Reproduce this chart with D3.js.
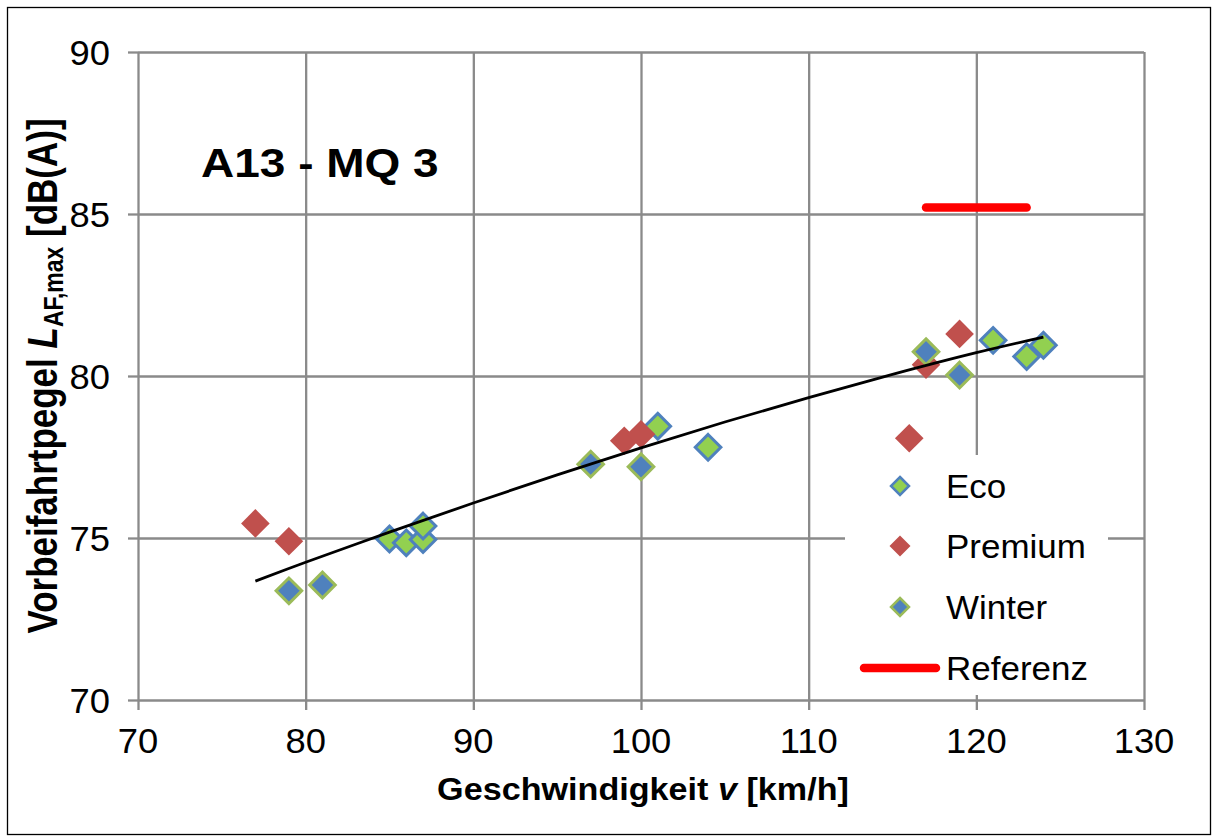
<!DOCTYPE html>
<html>
<head>
<meta charset="utf-8">
<script src="https://cdn.jsdelivr.net/npm/d3@7"></script>
<style>
  html, body { margin: 0; padding: 0; background: #fff; }
  svg { display: block; }
  text { font-family: "Liberation Sans", Arial, sans-serif; fill: #000; }
</style>
</head>
<body>
<svg id="chart" width="1215" height="839"></svg>
<script>
// Pass-by level vs. speed, measuring site A13 - MQ 3
const ecoSpeed      = [85, 86, 87, 87, 101, 104, 121, 123, 124];
const ecoLevel      = [74.97, 74.85, 74.95, 75.37, 78.45, 77.8, 81.1, 80.6, 80.95];
const premiumSpeed  = [77, 79, 99, 100, 116, 117, 119];
const premiumLevel  = [75.45, 74.9, 78.0, 78.2, 78.08, 80.35, 81.3];
const winterSpeed   = [79, 81, 97, 100, 117, 119];
const winterLevel   = [73.37, 73.55, 77.28, 77.2, 80.75, 80.03];
const referenzSpeed = [117, 123];
const referenzLevel = [85.2, 85.2];
const trendSpeed    = [77, 80, 85, 90, 95, 100, 105, 110, 115, 120, 124];
const trendLevel    = [73.67, 74.25, 75.18, 76.08, 76.95, 77.78, 78.58, 79.33, 80.05, 80.72, 81.2];
const xTicks = [70, 80, 90, 100, 110, 120, 130];
const yTicks = [70, 75, 80, 85, 90];
const seriesNames = ["Eco", "Premium", "Winter", "Referenz"];

const svg = d3.select("#chart");
const gridColor = "#8a8a8a";

// outer frame
svg.append("rect")
  .attr("x", 7.5).attr("y", 7.5).attr("width", 1203).attr("height", 827)
  .attr("fill", "#fff").attr("stroke", "#000").attr("stroke-width", 1.3);

const x = d3.scaleLinear().domain([70, 130]).range([138, 1144]);
const y = d3.scaleLinear().domain([70, 90]).range([700, 52]);

// gridlines + frame of the plot area via axes
const gx = svg.append("g").attr("transform", `translate(0,${y(70)})`)
  .call(d3.axisBottom(x).tickValues(xTicks).tickSize(-(y(70) - y(90))).tickFormat(""));
gx.selectAll("line").attr("stroke", gridColor).attr("stroke-width", 2.3);
gx.select(".domain").remove();
const gy = svg.append("g").attr("transform", `translate(${x(70)},0)`)
  .call(d3.axisLeft(y).tickValues(yTicks).tickSize(-(x(130) - x(70))).tickFormat(""));
gy.selectAll("line").attr("stroke", gridColor).attr("stroke-width", 2.3);
gy.select(".domain").remove();

// outer tick marks
const tx = svg.append("g").attr("transform", `translate(0,${y(70)})`)
  .call(d3.axisBottom(x).tickValues(xTicks).tickSize(10).tickSizeOuter(0).tickFormat(""));
tx.selectAll("line").attr("stroke", gridColor).attr("stroke-width", 2.3);
tx.select(".domain").remove();
const ty = svg.append("g").attr("transform", `translate(${x(70)},0)`)
  .call(d3.axisLeft(y).tickValues(yTicks).tickSize(10).tickSizeOuter(0).tickFormat(""));
ty.selectAll("line").attr("stroke", gridColor).attr("stroke-width", 2.3);
ty.select(".domain").remove();

// tick labels
svg.append("g").selectAll("text").data(xTicks).join("text")
  .attr("transform", d => `translate(${x(d)},753) scale(1.04,1)`)
  .attr("text-anchor", "middle").attr("font-size", 35).text(d => d);
svg.append("g").selectAll("text").data(yTicks).join("text")
  .attr("transform", d => `translate(110,${y(d) + 12.5}) scale(1.04,1)`)
  .attr("text-anchor", "end").attr("font-size", 35).text(d => d);

// axis titles
svg.append("text")
  .attr("transform", "translate(643,800) scale(1.12,1)")
  .attr("text-anchor", "middle").attr("font-size", 30.5).attr("font-weight", "bold")
  .call(t => {
    t.append("tspan").text("Geschwindigkeit ");
    t.append("tspan").attr("font-style", "italic").text("v");
    t.append("tspan").text(" [km/h]");
  });

const yt = svg.append("text")
  .attr("transform", "translate(57,376) scale(1.2,1) rotate(-90)")
  .attr("text-anchor", "middle").attr("font-size", 35).attr("font-weight", "bold");
yt.append("tspan").text("Vorbeifahrtpegel ");
yt.append("tspan").attr("font-style", "italic").text("L");
yt.append("tspan").attr("font-size", 23).attr("dy", 5).text("AF,max");
yt.append("tspan").attr("dy", -5).text(" [dB(A)]");

// site label
svg.append("text")
  .attr("transform", "translate(201,177) scale(1.15,1)")
  .attr("font-size", 40).attr("font-weight", "bold").text("A13 - MQ 3");

// marker styles
const styles = {
  Eco:     { fill: "#92D050", stroke: "#4F81BD" },
  Premium: { fill: "#C0504D", stroke: "none" },
  Winter:  { fill: "#4F81BD", stroke: "#9BBB59" }
};
const diamond = (s) => `M0,${-s}L${s},0L0,${s}L${-s},0Z`;

function drawSeries(name, xs, ys, half) {
  const st = styles[name];
  svg.append("g").selectAll("path").data(xs.map((v, i) => [v, ys[i]])).join("path")
    .attr("d", diamond(half))
    .attr("transform", d => `translate(${x(d[0])},${y(d[1])})`)
    .attr("fill", st.fill)
    .attr("stroke", st.stroke)
    .attr("stroke-width", 3);
}
drawSeries("Eco", ecoSpeed, ecoLevel, 12.8);
drawSeries("Premium", premiumSpeed, premiumLevel, 14.3);
drawSeries("Winter", winterSpeed, winterLevel, 12.8);

// reference level
svg.append("path")
  .datum(referenzSpeed.map((v, i) => [v, referenzLevel[i]]))
  .attr("d", d3.line().x(d => x(d[0])).y(d => y(d[1])))
  .attr("stroke", "#FF0000").attr("stroke-width", 8.5).attr("stroke-linecap", "round").attr("fill", "none");

// trend curve
svg.append("path")
  .datum(trendSpeed.map((v, i) => [v, trendLevel[i]]))
  .attr("d", d3.line().x(d => x(d[0])).y(d => y(d[1])).curve(d3.curveCatmullRom))
  .attr("stroke", "#000").attr("stroke-width", 2.8).attr("fill", "none");

// legend
const lg = svg.append("g");
lg.append("rect").attr("x", 845).attr("y", 455).attr("width", 263).attr("height", 240).attr("fill", "#fff");
const rowY = [486, 546, 607, 668];
seriesNames.forEach((name, i) => {
  const cy = rowY[i];
  if (name === "Referenz") {
    lg.append("line").attr("x1", 864).attr("x2", 936).attr("y1", cy).attr("y2", cy)
      .attr("stroke", "#FF0000").attr("stroke-width", 8.5).attr("stroke-linecap", "round");
  } else {
    const st = styles[name];
    lg.append("path").attr("d", diamond(name === "Premium" ? 10.5 : 9))
      .attr("transform", `translate(900,${cy})`)
      .attr("fill", st.fill).attr("stroke", st.stroke).attr("stroke-width", 2.5);
  }
  lg.append("text").attr("transform", `translate(946,${cy + 11.5}) scale(1.06,1)`)
    .attr("font-size", 33).text(name);
});
</script>
</body>
</html>
